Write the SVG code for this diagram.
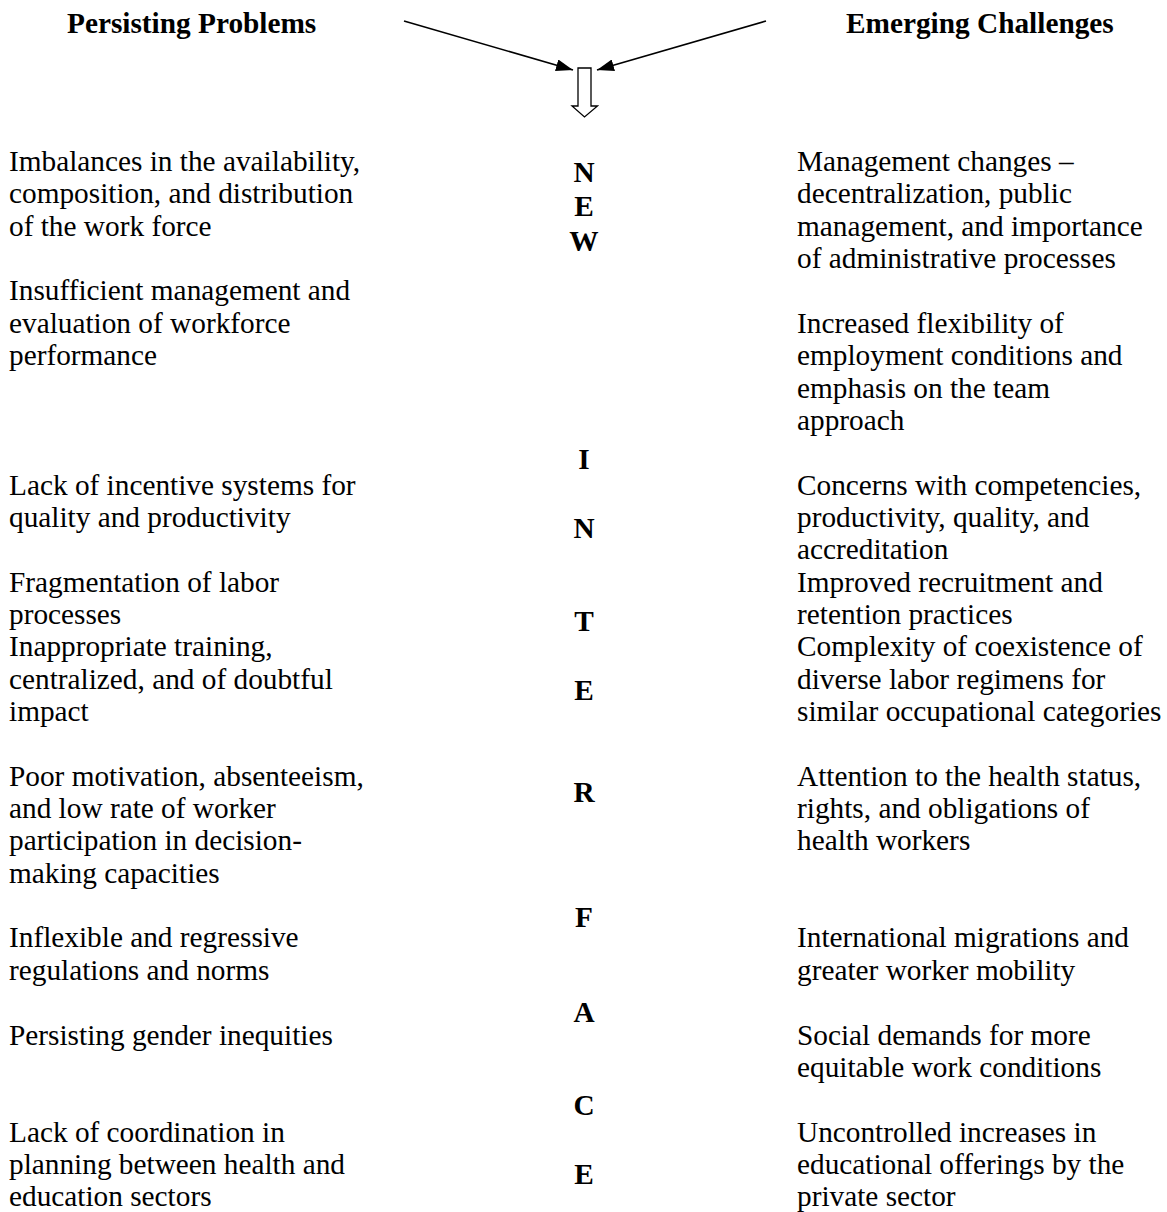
<svg xmlns="http://www.w3.org/2000/svg" width="1167" height="1212" viewBox="0 0 1167 1212">
<style>
text{font-family:"Liberation Serif","Times New Roman",serif;fill:#000}
.h{font-size:29.3px;font-weight:bold}
.t{font-size:29.3px}
.c{font-size:29.3px;font-weight:bold;text-anchor:middle}
.ln{stroke:#000;stroke-width:1.6;fill:none}
</style>
<defs>
<marker id="ah2" viewBox="0 0 17 12" refX="17" refY="6" markerWidth="17" markerHeight="12" markerUnits="userSpaceOnUse" orient="auto">
<path d="M0,0 L17,6 L0,12 z" fill="#000"/>
</marker>
</defs>
<g id="header-left"><text class="h" x="67" y="33">Persisting Problems</text></g>
<g id="header-right"><text class="h" x="846" y="33">Emerging Challenges</text></g>
<g id="connectors">
<line class="ln" x1="404" y1="21" x2="573" y2="70" marker-end="url(#ah2)"/>
<line class="ln" x1="766" y1="21" x2="597" y2="70" marker-end="url(#ah2)"/>
<polygon points="578,68 591,68 591,106 597.5,106 584.5,117 572,106 578,106" fill="#fff" stroke="#000" stroke-width="1.3"/>
</g>
<g id="center-word">
<text class="c" x="584" y="182">N</text>
<text class="c" x="584" y="216">E</text>
<text class="c" x="584" y="251">W</text>
<text class="c" x="584" y="469">I</text>
<text class="c" x="584" y="538">N</text>
<text class="c" x="584" y="631">T</text>
<text class="c" x="584" y="700">E</text>
<text class="c" x="584" y="802">R</text>
<text class="c" x="584" y="927">F</text>
<text class="c" x="584" y="1022">A</text>
<text class="c" x="584" y="1115">C</text>
<text class="c" x="584" y="1184">E</text>
</g>
<g id="left-column">
<g id="p1"><text class="t" x="9" y="171">Imbalances in the availability,</text><text class="t" x="9" y="203.4">composition, and distribution</text><text class="t" x="9" y="235.7">of the work force</text></g>
<g id="p2"><text class="t" x="9" y="300.4">Insufficient management and</text><text class="t" x="9" y="332.8">evaluation of workforce</text><text class="t" x="9" y="365.1">performance</text></g>
<g id="p3"><text class="t" x="9" y="494.5">Lack of incentive systems for</text><text class="t" x="9" y="526.9">quality and productivity</text></g>
<g id="p4"><text class="t" x="9" y="591.6">Fragmentation of labor</text><text class="t" x="9" y="623.9">processes</text></g>
<g id="p5"><text class="t" x="9" y="656.3">Inappropriate training,</text><text class="t" x="9" y="688.6">centralized, and of doubtful</text><text class="t" x="9" y="721">impact</text></g>
<g id="p6"><text class="t" x="9" y="785.7">Poor motivation, absenteeism,</text><text class="t" x="9" y="818">and low rate of worker</text><text class="t" x="9" y="850.4">participation in decision-</text><text class="t" x="9" y="882.7">making capacities</text></g>
<g id="p7"><text class="t" x="9" y="947.4">Inflexible and regressive</text><text class="t" x="9" y="979.8">regulations and norms</text></g>
<g id="p8"><text class="t" x="9" y="1044.5">Persisting gender inequities</text></g>
<g id="p9"><text class="t" x="9" y="1141.5">Lack of coordination in</text><text class="t" x="9" y="1173.9">planning between health and</text><text class="t" x="9" y="1206">education sectors</text></g>
</g>
<g id="right-column">
<g id="c1"><text class="t" x="797" y="171">Management changes –</text><text class="t" x="797" y="203.4">decentralization, public</text><text class="t" x="797" y="235.7">management, and importance</text><text class="t" x="797" y="268.1">of administrative processes</text></g>
<g id="c2"><text class="t" x="797" y="332.8">Increased flexibility of</text><text class="t" x="797" y="365.1">employment conditions and</text><text class="t" x="797" y="397.5">emphasis on the team</text><text class="t" x="797" y="429.8">approach</text></g>
<g id="c3"><text class="t" x="797" y="494.5">Concerns with competencies,</text><text class="t" x="797" y="526.9">productivity, quality, and</text><text class="t" x="797" y="559.2">accreditation</text></g>
<g id="c4"><text class="t" x="797" y="591.6">Improved recruitment and</text><text class="t" x="797" y="623.9">retention practices</text></g>
<g id="c5"><text class="t" x="797" y="656.3">Complexity of coexistence of</text><text class="t" x="797" y="688.6">diverse labor regimens for</text><text class="t" x="797" y="721">similar occupational categories</text></g>
<g id="c6"><text class="t" x="797" y="785.7">Attention to the health status,</text><text class="t" x="797" y="818">rights, and obligations of</text><text class="t" x="797" y="850.4">health workers</text></g>
<g id="c7"><text class="t" x="797" y="947.4">International migrations and</text><text class="t" x="797" y="979.8">greater worker mobility</text></g>
<g id="c8"><text class="t" x="797" y="1044.5">Social demands for more</text><text class="t" x="797" y="1076.8">equitable work conditions</text></g>
<g id="c9"><text class="t" x="797" y="1141.5">Uncontrolled increases in</text><text class="t" x="797" y="1173.9">educational offerings by the</text><text class="t" x="797" y="1206">private sector</text></g>
</g>
</svg>
